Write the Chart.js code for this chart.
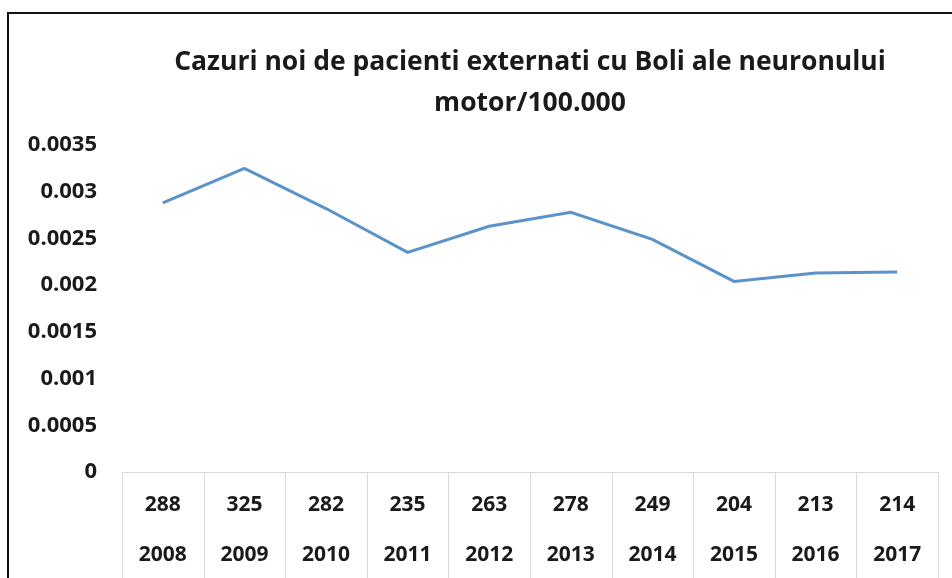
<!DOCTYPE html>
<html>
<head>
<meta charset="utf-8">
<script src="https://cdn.jsdelivr.net/npm/chart.js@4"></script>
<style>
  html, body { margin: 0; padding: 0; background: #fff; }
  #wrap { position: relative; width: 952px; height: 578px; overflow: hidden; }
  #c { position: absolute; left: 0; top: 0; }
  #frame { position: absolute; left: 7px; top: 12px; width: 960px; height: 600px;
           border-left: 2px solid #111; border-top: 2px solid #111; pointer-events: none; }
</style>
</head>
<body>
<div id="wrap">
  <canvas id="c" width="952" height="578"></canvas>
  <div id="frame"></div>
</div>
<script>
const titleLines = ['Cazuri noi de pacienti externati cu Boli ale neuronului', 'motor/100.000'];
const years = ['2008', '2009', '2010', '2011', '2012', '2013', '2014', '2015', '2016', '2017'];
const counts = ['288', '325', '282', '235', '263', '278', '249', '204', '213', '214'];
const rates = [0.00288, 0.00325, 0.00282, 0.00235, 0.00263, 0.00278, 0.00249, 0.00204, 0.00213, 0.00214];
const yMin = 0;
const yMax = 0.0035;
const yStep = 0.0005;

const labels = years.map((y, i) => [counts[i], y]);

const tableLines = {
  id: 'tableLines',
  afterDraw(chart) {
    const xs = chart.scales.x;
    const ctx = chart.ctx;
    const n = chart.data.labels.length;
    const half = (xs.getPixelForValue(1) - xs.getPixelForValue(0)) / 2;
    ctx.save();
    ctx.strokeStyle = '#d9d9d9';
    ctx.lineWidth = 1;
    for (let i = 0; i <= n; i++) {
      const x = Math.round(xs.getPixelForValue(i) - half) + 0.5;
      ctx.beginPath();
      ctx.moveTo(x, xs.top);
      ctx.lineTo(x, xs.bottom);
      ctx.stroke();
    }
    ctx.restore();
  }
};

new Chart(document.getElementById('c'), {
  type: 'line',
  data: {
    labels: labels,
    datasets: [{
      data: rates,
      borderColor: '#5B93C9',
      borderWidth: 3,
      pointRadius: 0,
      fill: false,
      tension: 0
    }]
  },
  options: {
    responsive: false,
    animation: false,
    devicePixelRatio: 1,
    layout: { padding: { left: 0, right: 14, top: 0, bottom: 0 } },
    plugins: {
      legend: { display: false },
      tooltip: { enabled: false },
      title: {
        display: true,
        text: titleLines,
        fullSize: false,
        color: '#1a1a1a',
        font: { family: 'Open Sans', size: 26.5, weight: 'bold', lineHeight: 41 / 26.5 },
        padding: { top: 41.5, bottom: 21.5 }
      }
    },
    scales: {
      x: {
        type: 'category',
        offset: true,
        grid: { display: false, drawTicks: false },
        border: { display: true, color: '#d9d9d9', width: 1 },
        ticks: {
          color: '#1a1a1a',
          padding: 8,
          maxRotation: 0,
          autoSkip: false,
          font: { family: 'Open Sans', size: 21, weight: 'bold', lineHeight: 50 / 21 }
        },
        afterFit(scale) { scale.height = 106; }
      },
      y: {
        min: yMin,
        max: yMax,
        grid: { display: false, drawTicks: false },
        border: { display: false },
        ticks: {
          stepSize: yStep,
          padding: 25,
          color: '#1a1a1a',
          font: { family: 'Open Sans', size: 22, weight: 'bold' },
          callback: (v) => String(Number(v.toFixed(4)))
        },
        afterFit(scale) { scale.width = 122; }
      }
    }
  },
  plugins: [tableLines]
});
</script>
</body>
</html>
